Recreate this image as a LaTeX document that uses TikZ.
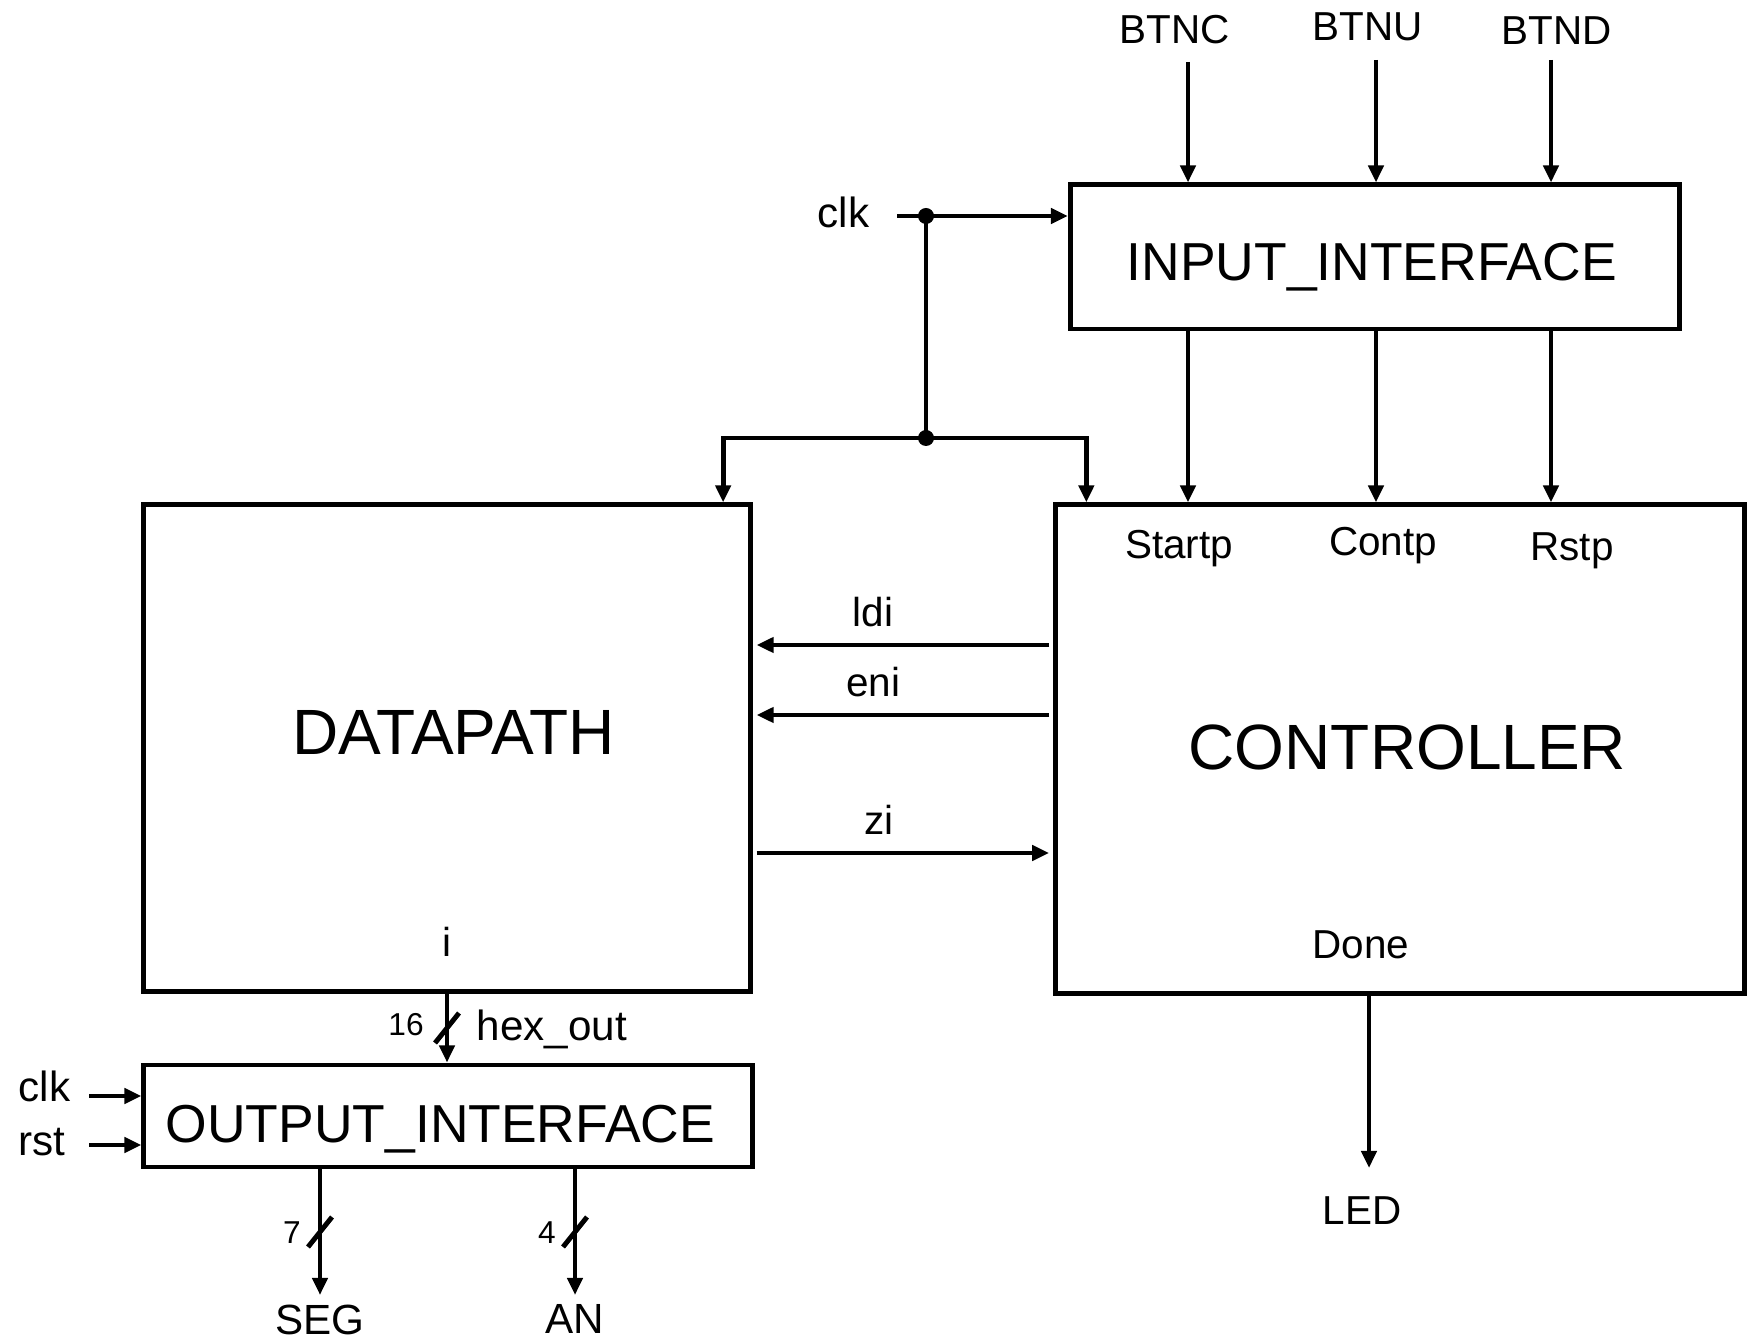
\documentclass[tikz,border=0pt]{standalone}
\usepackage{fontspec}
\setmainfont{Liberation Sans}
\usepackage{tikz}
\usetikzlibrary{arrows.meta, positioning, calc}
\tikzset{
  block/.style={rectangle, draw, line width=1.4pt, inner sep=0pt},
  title/.style={font=\fontsize{18.2}{22}\selectfont, inner sep=0pt},
  iface/.style={font=\fontsize{15.2}{18}\selectfont, inner sep=0pt},
  port/.style={font=\fontsize{11.5}{14}\selectfont, inner sep=0pt},
  pin/.style={font=\fontsize{12}{14}\selectfont, inner sep=0pt},
  bw/.style={font=\fontsize{9}{11}\selectfont, inner sep=0pt},
  sig/.style={-{Triangle[length=0.17cm, width=0.15cm]}, line width=1.4pt},
  wire/.style={line width=1.4pt},
  dot/.style={circle, fill, inner sep=0pt, minimum size=0.16cm},
}
\begin{document}
\begin{tikzpicture}[x=0.01cm, y=-0.01cm]
  \useasboundingbox (0,0) rectangle (1748,1340);

  % ── Blocks ───────────────────────────────────────────────────────────────
  \node[block, minimum width=6.09cm, minimum height=1.44cm] (inif)  at (1375,257)  {};
  \node[block, minimum width=6.07cm, minimum height=4.86cm] (dp)    at (447,748)   {};
  \node[block, minimum width=6.88cm, minimum height=4.88cm] (ctrl)  at (1400,749)  {};
  \node[block, minimum width=6.08cm, minimum height=1.02cm] (outif) at (448,1116)  {};

  \node[iface, anchor=base west] (inif-txt)  at (1126,281)  {INPUT\_INTERFACE};
  \node[iface, anchor=base west] (outif-txt) at (165,1142)  {OUTPUT\_INTERFACE};
  \node[title, anchor=base west] (dp-txt)    at (292,755)   {DATAPATH};
  \node[title, anchor=base west] (ctrl-txt)  at (1188,770)  {CONTROLLER};

  % ── Port names inside blocks ─────────────────────────────────────────────
  \node[port] (startp) at (1179,549) {Startp};
  \node[port] (contp)  at (1383,546) {Contp};
  \node[port] (rstp)   at (1572,551) {Rstp};
  \node[port] (done)   at (1361,945) {Done};
  \node[port] (idx)    at (447,942)  {i};

  % ── Buttons ──────────────────────────────────────────────────────────────
  \coordinate (btnc-in) at (1188,62);
  \coordinate (btnu-in) at (1376,60);
  \coordinate (btnd-in) at (1551,60);
  \node[port, above=0.17cm of btnc-in, xshift=-0.13cm] (btnc) {BTNC};
  \node[port, above=0.18cm of btnu-in, xshift=-0.08cm] (btnu) {BTNU};
  \node[port, above=0.15cm of btnd-in, xshift=0.06cm]  (btnd) {BTND};

  \draw[sig] (btnc-in) -- (btnc-in |- inif.north);
  \draw[sig] (btnu-in) -- (btnu-in |- inif.north);
  \draw[sig] (btnd-in) -- (btnd-in |- inif.north);

  \draw[sig] (btnc-in |- inif.south) -- (btnc-in |- ctrl.north);
  \draw[sig] (btnu-in |- inif.south) -- (btnu-in |- ctrl.north);
  \draw[sig] (btnd-in |- inif.south) -- (btnd-in |- ctrl.north);

  % ── Clock ────────────────────────────────────────────────────────────────
  \coordinate (clk-in) at (897,216);
  \node[pin, left=0.27cm of clk-in, yshift=0.04cm] (clk) {clk};
  \node[dot] (j1) at (926,216) {};
  \node[dot] (j2) at (926,438) {};
  \coordinate (dp-clk)   at ($(dp.north east)+(-30,0)$);
  \coordinate (ctrl-clk) at ($(ctrl.north west)+(33,0)$);

  \draw[sig]  (clk-in) -- (clk-in -| inif.west);
  \draw[wire] (j1.center) -- (j2.center);
  \draw[sig]  (j2.center) -| (dp-clk);
  \draw[sig]  (j2.center) -| (ctrl-clk);

  % ── Controller <-> datapath ──────────────────────────────────────────────
  \coordinate (ldi-y) at (0,645);
  \coordinate (eni-y) at (0,715);
  \coordinate (zi-y)  at (0,853);
  \draw[sig, shorten <=1.2pt, shorten >=1pt] (ldi-y -| ctrl.west) -- (ldi-y -| dp.east)
    node[port, pos=0.6, above=0.16cm] (ldi) {ldi};
  \draw[sig, shorten <=1.2pt, shorten >=1pt] (eni-y -| ctrl.west) -- (eni-y -| dp.east)
    node[port, pos=0.6, above=0.16cm] (eni) {eni};
  \draw[sig, shorten <=1pt, shorten >=1.2pt] (zi-y -| dp.east) -- (zi-y -| ctrl.west)
    node[port, pos=0.42, above=0.16cm] (zi) {zi};

  % ── Datapath -> output interface ─────────────────────────────────────────
  \draw[sig] (dp.south) -- (dp.south |- outif.north);
  \coordinate (hexbus) at (447,1028);
  \node[bw] (hexw) at (406,1025) {16};
  \node[pin, anchor=west] (hexout) at (476,1029) {hex\_out};

  \coordinate (clk2-in) at (89,1096);
  \coordinate (rst-in)  at (89,1145);
  \node[pin, left=0.18cm of clk2-in, yshift=0.1cm]  (clk2) {clk};
  \node[pin, left=0.23cm of rst-in, yshift=0.03cm]  (rst)  {rst};
  \draw[sig] (clk2-in) -- (clk2-in -| outif.west);
  \draw[sig] (rst-in)  -- (rst-in -| outif.west);

  % ── Outputs ──────────────────────────────────────────────────────────────
  \coordinate (seg-out) at (320,1295);
  \coordinate (an-out)  at (575,1295);
  \coordinate (led-out) at (1369,1168);
  \node[pin, below=0.09cm of seg-out] (seg) {SEG};
  \node[pin, below=0.09cm of an-out]  (an)  {AN};
  \node[port, below=0.28cm of led-out, xshift=-0.07cm] (led) {LED};

  \draw[sig] (seg-out |- outif.south) -- (seg-out);
  \draw[sig] (an-out |- outif.south)  -- (an-out);
  \draw[sig] (led-out |- ctrl.south)  -- (led-out);

  \coordinate (segbus) at (320,1232);
  \coordinate (anbus)  at (575,1232);
  \node[bw] (segw) at (292,1233) {7};
  \node[bw] (anw)  at (547,1233) {4};

  % bus width marks
  \foreach \b in {hexbus, segbus, anbus}
    \draw[wire] ($(\b)+(-12,15)$) -- ($(\b)+(12,-15)$);

\end{tikzpicture}
\end{document}
